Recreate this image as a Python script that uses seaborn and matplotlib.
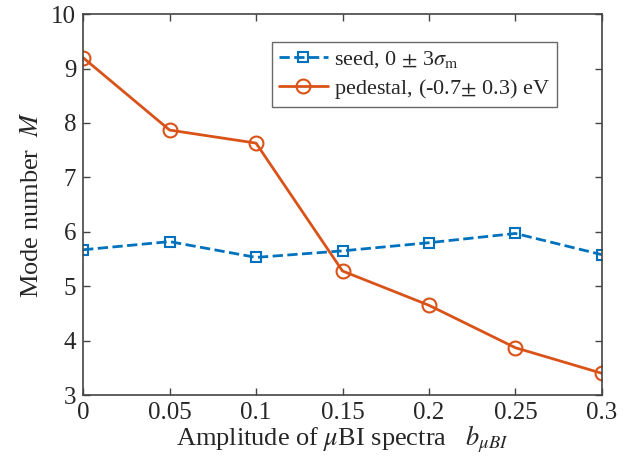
import pandas as pd
import seaborn as sns
import matplotlib.pyplot as plt

# data
b_ubi = [0, 0.05, 0.1, 0.15, 0.2, 0.25, 0.3]
seed_M = [5.67, 5.82, 5.53, 5.65, 5.80, 5.97, 5.58]
pedestal_M = [9.20, 7.87, 7.63, 5.28, 4.65, 3.87, 3.40]
x_ticks = [0, 0.05, 0.1, 0.15, 0.2, 0.25, 0.3]
x_ticklabels = ['0', '0.05', '0.1', '0.15', '0.2', '0.25', '0.3']
y_ticks = [3, 4, 5, 6, 7, 8, 9, 10]

sns.set_style('ticks')
plt.rcParams['font.family'] = ['Liberation Serif', 'DejaVu Serif']
plt.rcParams['mathtext.fontset'] = 'stix'

df = pd.DataFrame({'b': b_ubi, 'seed': seed_M, 'pedestal': pedestal_M})

fig = plt.figure(figsize=(6.25, 4.72), dpi=100)
ax = fig.add_axes([0.133, 0.163, 0.830, 0.807])

sns.lineplot(data=df, x='b', y='seed', ax=ax, color='#0072BD', linestyle='--',
             linewidth=2, marker='s', markersize=7, markerfacecolor='none',
             markeredgecolor='#0072BD', markeredgewidth=1.5,
             label=r'seed, 0 $\pm$ 3$\sigma_{\rm m}$')
sns.lineplot(data=df, x='b', y='pedestal', ax=ax, color='#D95319', linestyle='-',
             linewidth=2, marker='o', markersize=10, markerfacecolor='none',
             markeredgecolor='#D95319', markeredgewidth=1.5,
             label=r'pedestal, (-0.7$\pm$ 0.3) eV')

ax.set_xlim(0, 0.3)
ax.set_ylim(3, 10)
ax.set_xticks(x_ticks)
ax.set_xticklabels(x_ticklabels)
ax.set_yticks(y_ticks)
ax.tick_params(direction='in', top=True, right=True, length=5, width=1,
               color='#444444', labelsize=18, pad=5)
for s in ax.spines.values():
    s.set_color('#444444')
    s.set_linewidth(1.2)

ax.set_xlabel(r'Amplitude of $\mu$BI spectra   $b_{\mu BI}$', fontsize=19, labelpad=0)
ax.set_ylabel(r'Mode number  $M$', fontsize=19, labelpad=6)

leg = ax.legend(loc='upper right', bbox_to_anchor=(0.935, 0.955), fontsize=16,
                frameon=True, fancybox=False, edgecolor='#444444',
                handlelength=2.2, handletextpad=0.3, borderpad=0.3,
                labelspacing=0.3)
leg.get_frame().set_linewidth(1.0)

fig.savefig('out.png', dpi=100)
